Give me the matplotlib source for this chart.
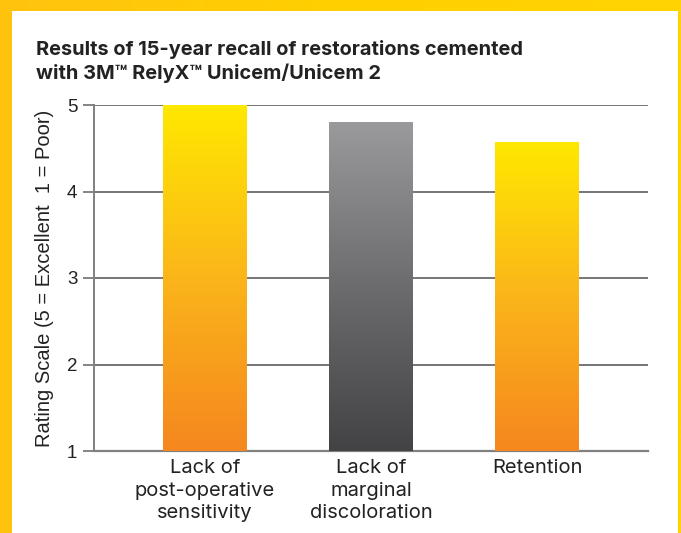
import numpy as np
import matplotlib
matplotlib.use("Agg")
import matplotlib.pyplot as plt
from matplotlib.colors import LinearSegmentedColormap
from matplotlib.patches import Rectangle

categories = ["Lack of\npost-operative\nsensitivity", "Lack of\nmarginal\ndiscoloration", "Retention"]
values = [5.0, 4.8, 4.57]
yticks = [1, 2, 3, 4, 5]
title_lines = ["Results of 15-year recall of restorations cemented",
               "with 3M\u2122 RelyX\u2122 Unicem/Unicem 2"]
ylabel = "Rating Scale (5 = Excellent  1 = Poor)"

orange_cmap = LinearSegmentedColormap.from_list("og", ["#F5871F", "#FBB51A", "#FFE800"])
gray_cmap = LinearSegmentedColormap.from_list("gy", ["#434345", "#6c6c6e", "#9a9a9d"])
bar_cmaps = [orange_cmap, gray_cmap, orange_cmap]

W, H = 681, 533
fig = plt.figure(figsize=(W / 100, H / 100), dpi=100)

# yellow background with gradient
bg = fig.add_axes([0, 0, 1, 1], zorder=-10)
grad = np.linspace(0, 1, 256).reshape(1, -1)
bg.imshow(grad, aspect="auto", extent=[0, 1, 0, 1],
          cmap=LinearSegmentedColormap.from_list("bgc", ["#FFC30F", "#FFD000", "#FFD400"]))
bg.set_xlim(0, 1); bg.set_ylim(0, 1)
bg.axis("off")
bg.add_patch(Rectangle((12 / W, 0), (678 - 12) / W, (H - 11) / H, facecolor="white",
                       edgecolor="none", transform=bg.transAxes))

ax = fig.add_axes([94 / W, (H - 451) / H, (648 - 94) / W, (451 - 105) / H])
ax.set_facecolor("none")

x = np.arange(len(categories))
bars = ax.bar(x, [v - 1 for v in values], bottom=1, width=0.505, color="none", zorder=3)
ramp = np.linspace(0, 1, 256).reshape(-1, 1)
for b, cm in zip(bars, bar_cmaps):
    x0, y0 = b.get_x(), b.get_y()
    x1, y1 = x0 + b.get_width(), y0 + b.get_height()
    im = ax.imshow(ramp, aspect="auto", origin="lower", extent=[x0, x1, y0, y1],
                   cmap=cm, zorder=3, interpolation="bicubic")
    im.set_clip_path(b)

ax.set_xlim(-0.667, 2.667)
ax.set_ylim(1, 5)
ax.set_yticks(yticks)
ax.set_yticklabels([str(t) for t in yticks], fontsize=13.5, family="Liberation Sans", color="#222222")
ax.set_xticks(x)
ax.set_xticklabels(categories, fontsize=14.5, family="Inter", color="#222222", linespacing=1.32)
ax.tick_params(axis="x", length=0, pad=6)
ax.tick_params(axis="y", length=8, width=1.2, color="#707070", pad=4)
for t in yticks[1:]:
    ax.axhline(t, color="#6a6a6a", lw=1.3, zorder=1)
for s in ["top", "right"]:
    ax.spines[s].set_visible(False)
ax.spines["left"].set_color("#808080")
ax.spines["left"].set_linewidth(1.4)
ax.spines["bottom"].set_color("#808080")
ax.spines["bottom"].set_linewidth(1.6)
ax.spines["left"].set_zorder(2)

ax.set_ylabel(ylabel, fontsize=14.5, family="Liberation Sans", color="#222222", labelpad=9)

fig.text(36 / W, 1 - 55 / H, title_lines[0], fontsize=14.4, fontweight="bold", family="Inter",
         color="#222222", va="baseline", ha="left")
fig.text(36 / W, 1 - 79 / H, title_lines[1], fontsize=14.4, fontweight="bold", family="Inter",
         color="#222222", va="baseline", ha="left")

fig.savefig("out.png", dpi=100)
